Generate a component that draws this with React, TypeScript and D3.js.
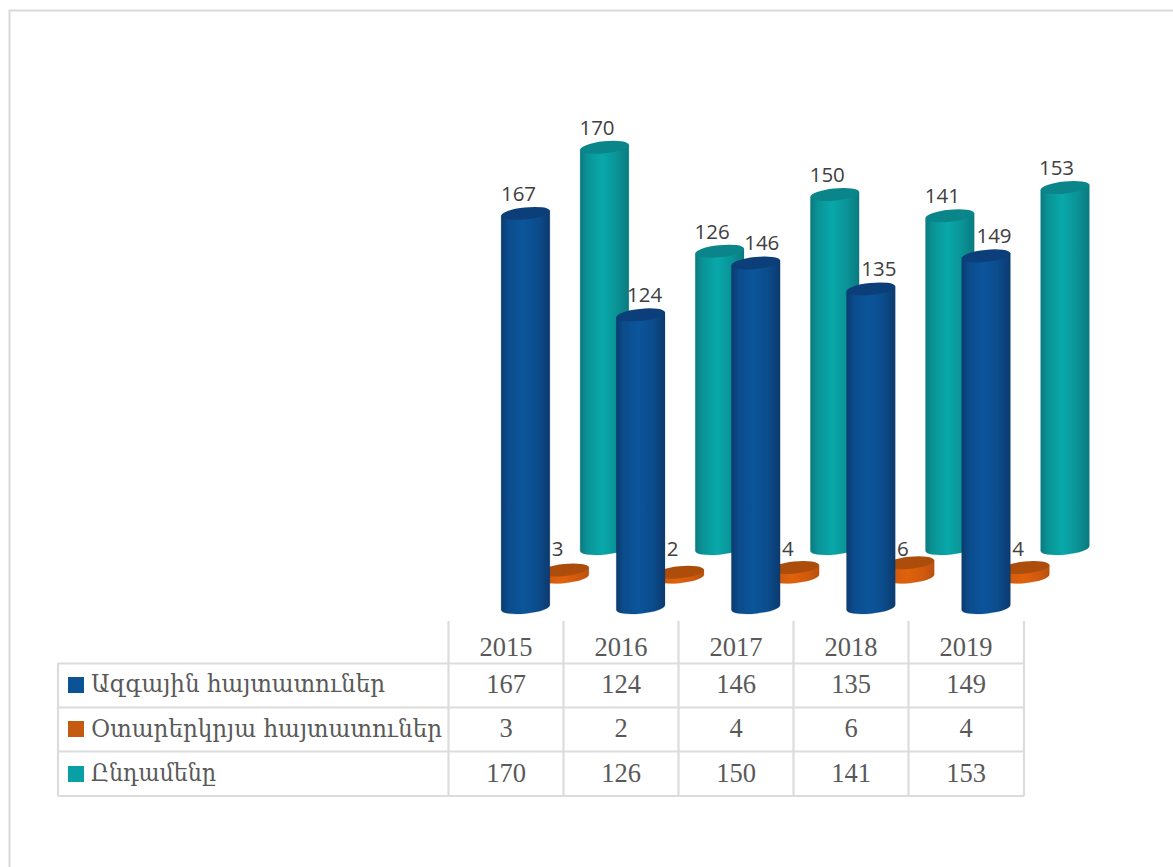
import React from "react";
import * as d3 from "d3";

const years = ["2015", "2016", "2017", "2018", "2019"];
const national = [167, 124, 146, 135, 149];
const foreign = [3, 2, 4, 6, 4];
const total = [170, 126, 150, 141, 153];
const seriesNames = ["Ազգային հայտատուներ", "Օտարերկրյա հայտատուներ", "Ընդամենը"];
const seriesColors = ["#0b5394", "#c55a11", "#08a0a4"];
const nameWidths = [294, 351, 125];
const nationalLabelShift = [-7, 4, 6, 8, 8];
const foreignLabelShift = [-7, -7, -7, -7, -7];
const totalLabelShift = [-7.5, -7.5, -7.5, -7.5, -8.5];

const W = 1173, H = 867;
const unit = 2.36;
const rx = 24.5, ry = 6, tilt = -6;
const x0 = d3.scalePoint<string>().domain(years).range([525.5, 986]);
const heightScale = d3.scaleLinear().domain([0, 170]).range([0, 170 * unit]);

const tableX = d3.scaleOrdinal<string, number>().domain(years).range([448.5, 563.5, 678.5, 793.5, 908.5]);
const colW = 115.2;
const rowYs = [663.5, 707.5, 751.5, 796];
const swatchYs = [677, 721, 766];
const textBase = [693, 737, 781.5];
const nameBase = [692, 736.7, 781];

function Cyl({ cx, base, h, id, top, edge }: { cx: number; base: number; h: number; id: string; top: string; edge: string }) {
  const t = base - h;
  const rad = (tilt * Math.PI) / 180;
  const ex = rx * Math.cos(rad), ey = rx * Math.sin(rad);
  const body = `M${cx - ex},${t - ey} L${cx - ex},${base - ey} A${rx},${ry} ${tilt} 0 0 ${cx + ex},${base + ey} L${cx + ex},${t + ey} Z`;
  return (
    <g>
      <path d={body} fill={`url(#${id})`} stroke={edge} strokeWidth={0.4} strokeOpacity={0.5} />
      <ellipse cx={cx} cy={t} rx={rx} ry={ry} fill={top} transform={`rotate(${tilt} ${cx} ${t})`} />
    </g>
  );
}

const grads = [
  { id: "gBlue", e: "#0c3a6e", a: "#0b4c8c", m: "#0b559b", top: "#0c3f79" },
  { id: "gOrange", e: "#b9520f", a: "#d25a0e", m: "#e0620c", top: "#ad4d0c" },
  { id: "gTeal", e: "#0b7a80", a: "#0a9396", m: "#09a8aa", top: "#0a858a" },
];

const labelFont = "'Open Sans', sans-serif";
const numFont = "'Liberation Serif', serif";
const nameFont = "'DejaVu Serif', serif";

export default function App() {
  const series = [
    { vals: total, base: 548.5, dx: 79, g: grads[2], shift: totalLabelShift },
    { vals: foreign, base: 577, dx: 39, g: grads[1], shift: foreignLabelShift },
    { vals: national, base: 607.5, dx: 0, g: grads[0], shift: nationalLabelShift },
  ];
  return (
    <svg width={W} height={H} style={{ position: "absolute", left: 0, top: 0 }}>
      <defs>
        {grads.map((g) => (
          <linearGradient key={g.id} id={g.id} x1="0" x2="1" y1="0" y2="0">
            <stop offset="0" stopColor={g.e} />
            <stop offset="0.15" stopColor={g.a} />
            <stop offset="0.45" stopColor={g.m} />
            <stop offset="0.75" stopColor={g.a} />
            <stop offset="1" stopColor={g.e} />
          </linearGradient>
        ))}
      </defs>
      <rect x={0} y={0} width={W} height={H} fill="#fff" />
      <path d={`M${W},10.5 H9.5 V${H}`} fill="none" stroke="#d9d9d9" strokeWidth={2} />
      {series.map((s) =>
        s.vals.map((v, i) => (
          <Cyl key={s.g.id + i} cx={x0(years[i])! + s.dx} base={s.base} h={heightScale(v)} id={s.g.id} top={s.g.top} edge={s.g.e} />
        ))
      )}
      {series.map((s) =>
        s.vals.map((v, i) => (
          <text
            key={"l" + s.g.id + i}
            x={x0(years[i])! + s.dx + s.shift[i]}
            y={s.g.id === "gOrange" ? 556 : s.base - heightScale(v) - 12.5}
            fontFamily={labelFont}
            fontSize={20.5}
            fill="#404040"
            textAnchor="middle"
          >
            {v}
          </text>
        ))
      )}
      <g stroke="#dcdcdc" strokeWidth={2.2} fill="none">
        {rowYs.map((y) => (
          <line key={y} x1={58} x2={1024} y1={y} y2={y} />
        ))}
        <line x1={58} x2={58} y1={663} y2={796} />
        {[...years.map((y) => tableX(y)), 1024].map((x) => (
          <line key={x} x1={x} x2={x} y1={621} y2={796} />
        ))}
      </g>
      {years.map((y) => (
        <text key={y} x={tableX(y) + colW / 2} y={656} textAnchor="middle" fontFamily={numFont} fontSize={26.5} fill="#595959">
          {y}
        </text>
      ))}
      {[national, foreign, total].map((vals, r) => (
        <g key={r}>
          <rect x={68} y={swatchYs[r]} width={16} height={16} fill={seriesColors[r]} />
          <text x={91} y={nameBase[r]} fontFamily={nameFont} fontSize={24} fill="#595959" textLength={nameWidths[r]} lengthAdjust="spacingAndGlyphs">
            {seriesNames[r]}
          </text>
          {vals.map((v, i) => (
            <text key={i} x={tableX(years[i]) + colW / 2} y={textBase[r]} textAnchor="middle" fontFamily={numFont} fontSize={26.5} fill="#595959">
              {v}
            </text>
          ))}
        </g>
      ))}
    </svg>
  );
}
